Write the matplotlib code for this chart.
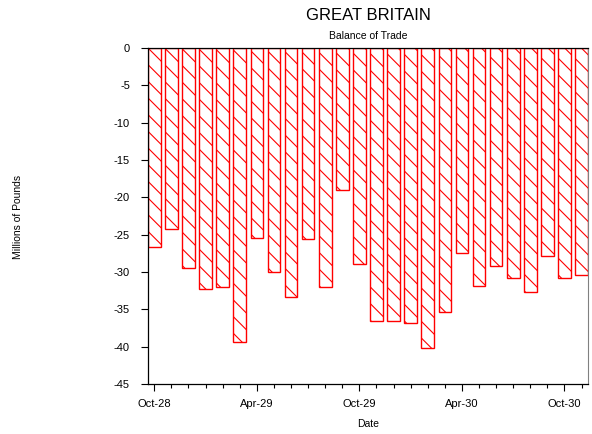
import numpy as np
import matplotlib
matplotlib.use("Agg")
import matplotlib.pyplot as plt
from matplotlib.ticker import FixedLocator

plt.rcParams["font.family"] = ["Liberation Sans", "DejaVu Sans"]
plt.rcParams["hatch.color"] = "red"
plt.rcParams["hatch.linewidth"] = 0.8

# monthly balance of trade, Oct 1928 .. Nov 1930 (millions of pounds)
months = ["Oct-28", "Nov-28", "Dec-28", "Jan-29", "Feb-29", "Mar-29", "Apr-29",
          "May-29", "Jun-29", "Jul-29", "Aug-29", "Sep-29", "Oct-29", "Nov-29",
          "Dec-29", "Jan-30", "Feb-30", "Mar-30", "Apr-30", "May-30", "Jun-30",
          "Jul-30", "Aug-30", "Sep-30", "Oct-30", "Nov-30"]
balance = [-26.7, -24.2, -29.4, -32.2, -32.0, -39.4, -25.4, -30.0, -33.4,
           -25.6, -32.0, -19.0, -28.9, -36.5, -36.6, -36.8, -40.2, -35.4,
           -27.5, -31.8, -29.2, -30.8, -32.7, -27.8, -30.8, -30.4]
tick_labels = ["Oct-28", "Apr-29", "Oct-29", "Apr-30", "Oct-30"]
yticks = [0, -5, -10, -15, -20, -25, -30, -35, -40, -45]

x = np.arange(len(months))
major = [months.index(m) for m in tick_labels]

fig = plt.figure(figsize=(5.92, 4.34), dpi=100)
ax = fig.add_axes([0.25, 0.115, 0.743, 0.774])

ax.bar(x, balance, width=0.74, align="center", bottom=0,
       facecolor="white", edgecolor="red", linewidth=1.0, hatch="\\\\")

ax.set_xlim(-0.37, len(months) - 1 + 0.37)
ax.set_ylim(-45, 0)
ax.set_yticks(yticks)
ax.set_yticklabels([str(v) for v in yticks])
ax.xaxis.set_major_locator(FixedLocator(major))
ax.set_xticklabels(tick_labels)
ax.xaxis.set_minor_locator(FixedLocator(x))

ax.tick_params(axis="both", which="major", labelsize=8, direction="out",
               length=5, width=0.8, color="black")
ax.tick_params(axis="x", which="minor", direction="out", length=3, width=0.8)
ax.tick_params(axis="x", pad=6)
ax.tick_params(axis="y", pad=8)

ax.spines["right"].set_color("gray")
for s in ["left", "bottom", "top"]:
    ax.spines[s].set_color("black")
    ax.spines[s].set_linewidth(0.9)

fig.text(0.6225, 0.965, "GREAT BRITAIN", ha="center", va="center", fontsize=12)
fig.text(0.6225, 0.918, "Balance of Trade", ha="center", va="center", fontsize=7.5)
fig.text(0.6225, 0.023, "Date", ha="center", va="center", fontsize=7.5)
fig.text(0.031, 0.5, "Millions of Pounds", rotation=90, ha="center", va="center",
         fontsize=7.5)

fig.savefig("out.png", dpi=100)
